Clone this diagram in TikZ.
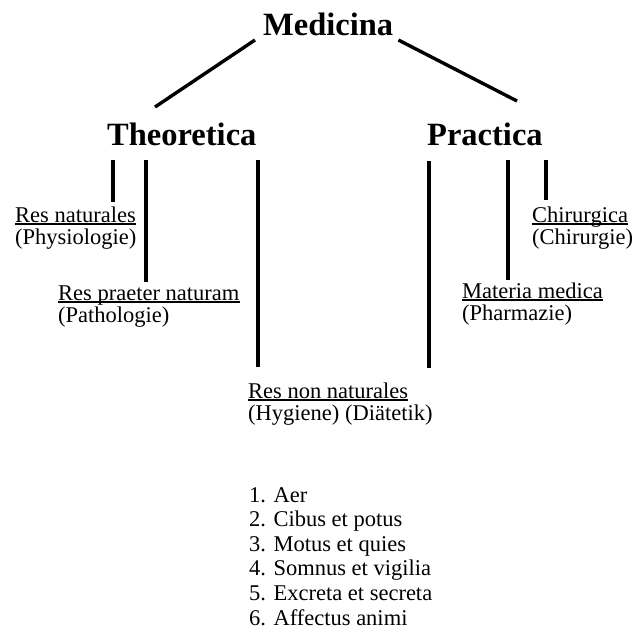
\documentclass[tikz,border=0pt]{standalone}
\usepackage{fontspec}
\setmainfont{Liberation Serif}
\usetikzlibrary{calc}
\begin{document}
\begin{tikzpicture}[x=1pt,y=-1pt,
  head/.style={font=\fontsize{32.5}{34}\selectfont\bfseries, inner sep=0, anchor=base west},
  lbl/.style={font=\fontsize{22.5}{24}\selectfont, inner sep=0, anchor=base west},
  branch/.style={line width=3.4pt},
  uline/.style={line width=1.1pt}]
\useasboundingbox (0,0) rectangle (634,633);
% headings
\node[head] (med) at (263,35) {Medicina};
\node[head] (theo) at (107,145) {Theoretica};
\node[head] (prac) at (427,145) {Practica};
% labels
\node[lbl] (rn) at (15,222) {Res naturales};
\node[lbl] (rnx) at (15,244) {(Physiologie)};
\node[lbl] (rp) at (58,300) {Res praeter naturam};
\node[lbl] (rpx) at (58,322) {(Pathologie)};
\node[lbl] (rnn) at (248,398) {Res non naturales};
\node[lbl] (rnnx) at (248,420) {(Hygiene) (Diätetik)};
\node[lbl] (ch) at (532,222) {Chirurgica};
\node[lbl] (chx) at (532,244) {(Chirurgie)};
\node[lbl] (mm) at (462,298) {Materia medica};
\node[lbl] (mmx) at (462,320) {(Pharmazie)};
% underlines
\foreach \n in {rn,rp,rnn,ch,mm}
  \draw[uline] ($(\n.base west)+(0,2)$) -- ($(\n.base east)+(0,2)$);
% list
\foreach \i/\t [count=\k from 0] in {1/Aer,2/Cibus et potus,3/Motus et quies,4/Somnus et vigilia,5/Excreta et secreta,6/Affectus animi}
  \node[lbl] (li\i) at (249,502+24.6*\k) {\i. \t};
% main branches
\draw[branch] ($(med.base west)+(-8,5)$) -- ($(theo.base west)+(48,-38)$);
\draw[branch] ($(med.base east)+(5,5)$) -- ($(prac.base west)+(90,-44)$);
% vertical connectors
\coordinate (t1) at (113,160);
\coordinate (t2) at (146,160);
\coordinate (t3) at (258,160);
\coordinate (t4) at (429,161);
\coordinate (t5) at (508,160);
\coordinate (t6) at (546,160);
\draw[branch] (t1) -- ($(t1 |- rn.base)+(0,-20)$);
\draw[branch] (t2) -- ($(t2 |- rp.base)+(0,-18)$);
\draw[branch] (t3) -- ($(t3 |- rnn.base)+(0,-31)$);
\draw[branch] (t4) -- ($(t4 |- rnn.base)+(0,-30)$);
\draw[branch] (t5) -- ($(t5 |- mm.base)+(0,-18)$);
\draw[branch] (t6) -- ($(t6 |- ch.base)+(0,-22)$);
\end{tikzpicture}
\end{document}
